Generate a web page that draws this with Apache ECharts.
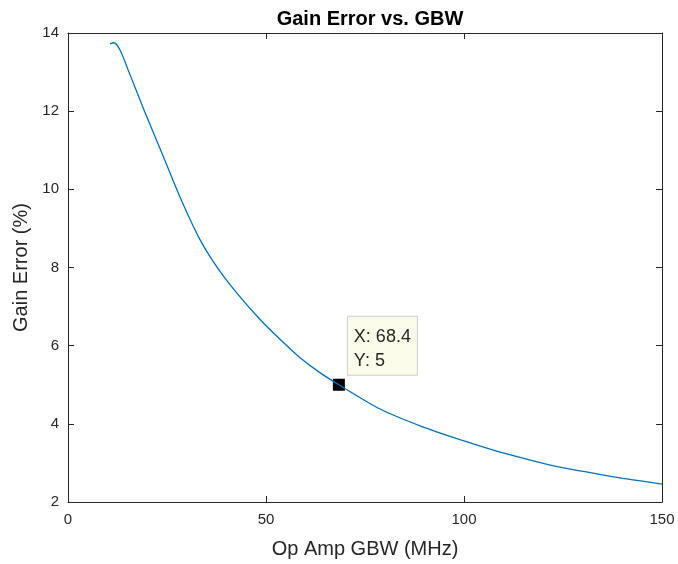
<!DOCTYPE html>
<html>
<head>
<meta charset="utf-8">
<script src="https://cdn.jsdelivr.net/npm/echarts@6/dist/echarts.min.js"></script>
<style>
html,body{margin:0;padding:0;background:#fff;}
#chart{width:678px;height:564px;}
</style>
</head>
<body>
<div id="chart"></div>
<script>
// Data
var gbw = [10.6, 11.6, 13.1, 15.2, 19.4, 23.7, 28.3, 33.3, 37.5, 42.6, 48.5, 54.4, 58.6, 63.6, 68.4, 78.8, 88.9, 99.8, 107.4, 115.8, 124.2, 132.6, 141.1, 150];
var gainErr = [13.72, 13.75, 13.57, 13.05, 11.98, 10.93, 9.8, 8.72, 8.03, 7.35, 6.67, 6.08, 5.69, 5.31, 5.0, 4.38, 3.95, 3.57, 3.33, 3.10, 2.89, 2.74, 2.59, 2.46];
var tipX = 68.4;
var tipY = 5;
var xTicks = [0, 50, 100, 150];
var yTicks = [2, 4, 6, 8, 10, 12, 14];

var FONT = 'Liberation Sans, Arial, Helvetica, sans-serif';
var AX = '#262626';

var lineData = gbw.map(function (x, i) { return [x, gainErr[i]]; });

var chart = echarts.init(document.getElementById('chart'), null, {renderer: 'canvas'});

function baseX(pos, show) {
  return {
    type: 'value', position: pos, min: xTicks[0], max: xTicks[xTicks.length - 1],
    interval: xTicks[1] - xTicks[0],
    axisLine: {show: true, onZero: false, lineStyle: {color: AX, width: 1}},
    axisTick: {show: true, inside: true, length: 6, lineStyle: {color: AX}},
    axisLabel: {show: show, margin: 10, color: AX, fontSize: 15, fontFamily: FONT},
    splitLine: {show: false}
  };
}
function baseY(pos, show) {
  return {
    type: 'value', position: pos, min: yTicks[0], max: yTicks[yTicks.length - 1],
    interval: yTicks[1] - yTicks[0],
    axisLine: {show: true, onZero: false, lineStyle: {color: AX, width: 1}},
    axisTick: {show: true, inside: true, length: 6, lineStyle: {color: AX}},
    axisLabel: {show: show, margin: 9, color: AX, fontSize: 15, fontFamily: FONT},
    splitLine: {show: false}
  };
}

var xb = baseX('bottom', true);
xb.name = 'Op Amp GBW (MHz)';
xb.nameLocation = 'middle';
xb.nameGap = 37;
xb.nameTextStyle = {color: AX, fontSize: 20, fontFamily: FONT};
var xt = baseX('top', false);

var yl = baseY('left', true);
yl.name = 'Gain Error (%)';
yl.nameLocation = 'middle';
yl.nameRotate = 90;
yl.nameGap = 33;
yl.nameTextStyle = {color: AX, fontSize: 20, fontFamily: FONT};
var yr = baseY('right', false);

chart.setOption({
  animation: false,
  backgroundColor: '#ffffff',
  title: {
    text: 'Gain Error vs. GBW', left: 365, top: 4, textAlign: 'center',
    textStyle: {fontSize: 20, fontWeight: 'bold', color: '#000', fontFamily: FONT}
  },
  grid: {left: 68, right: 16, top: 33, bottom: 61, containLabel: false},
  xAxis: [xb, xt],
  yAxis: [yl, yr],
  series: [
    {
      type: 'line', xAxisIndex: 0, yAxisIndex: 0,
      data: lineData, showSymbol: false, smooth: 0.3,
      lineStyle: {color: '#0072BD', width: 1.3}
    },
    {
      type: 'scatter', xAxisIndex: 0, yAxisIndex: 0,
      data: [[tipX, tipY]], symbol: 'rect', symbolSize: 12,
      itemStyle: {color: '#000', opacity: 1},
      label: {
        show: true, position: [15, -62], align: 'left', verticalAlign: 'top',
        formatter: function (p) { return 'X: ' + p.value[0] + '\nY: ' + p.value[1]; },
        color: AX, fontSize: 18, lineHeight: 24, fontFamily: FONT,
        backgroundColor: '#fbfbea', borderColor: '#cfcfcf', borderWidth: 1,
        padding: [8, 6, 2, 6]
      }
    }
  ]
});
</script>
</body>
</html>
